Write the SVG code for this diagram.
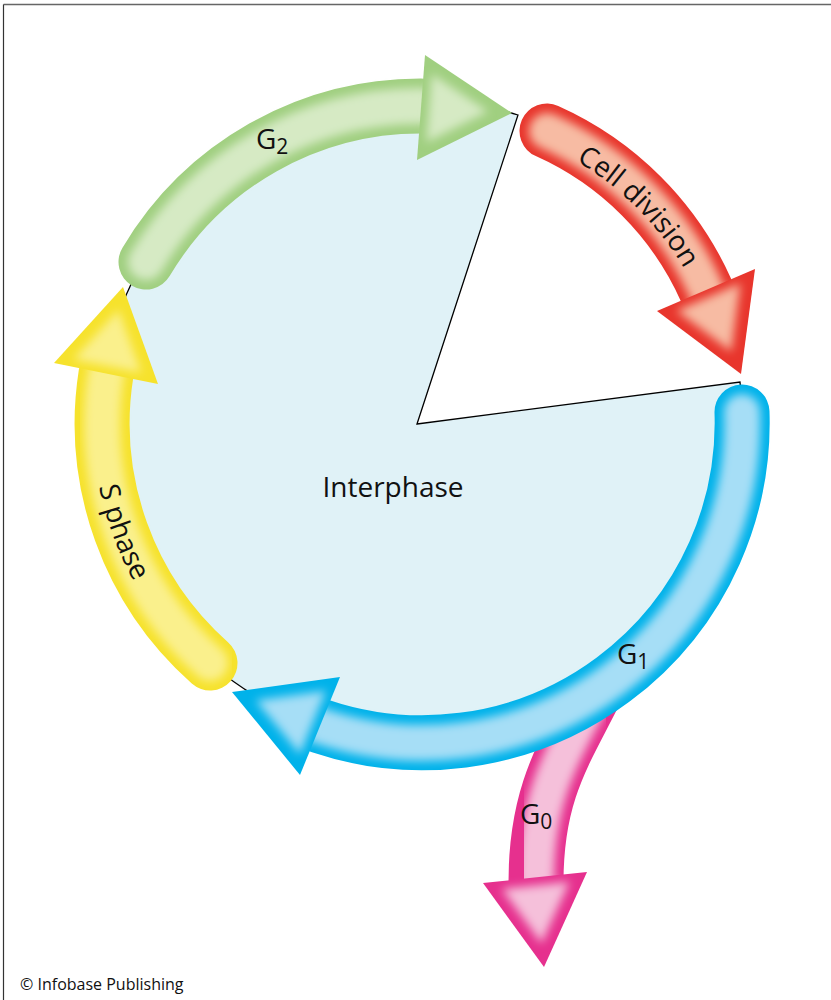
<svg xmlns="http://www.w3.org/2000/svg" width="831" height="1000" viewBox="0 0 831 1000">
  <style>
    .lbl { font-family: "Open Sans", "Noto Sans", "DejaVu Sans", sans-serif; font-size: 28px; fill: #111; }
    .sub { font-size: 21px; }
    .band { fill: none; stroke-width: 55; stroke-linecap: round; }
    .core { fill: none; stroke-width: 36; stroke-linecap: round; filter: url(#soft); }
    .head-core { filter: url(#softHead); }
  </style>
  <defs>
    <filter id="soft" x="-20%" y="-20%" width="140%" height="140%">
      <feGaussianBlur stdDeviation="5"/>
    </filter>
    <filter id="softHead" x="-30%" y="-30%" width="160%" height="160%">
      <feGaussianBlur stdDeviation="7"/>
    </filter>
    <!-- baselines for the curved labels -->
    <path id="cellPath" d="M474.8,123.6 A304,304 0 0,1 721.4,370.2"/>
    <path id="sPath" d="M94.2,394.3 A329,329 0 0,0 189.4,655.6"/>
  </defs>

  <rect x="0" y="0" width="831" height="1000" fill="#ffffff"/>
  <!-- frame -->
  <line x1="3.5" y1="4.5" x2="831" y2="4.5" stroke="#666" stroke-width="1.5"/>
  <line x1="3.5" y1="4.5" x2="3.5" y2="1000" stroke="#333" stroke-width="1.2"/>

  <!-- interphase disc with the division wedge cut out -->
  <g id="interphase">
    <path d="M417,424 L740,382 A321,321 0 1,1 518,115 Z" fill="#e0f2f7" stroke="#000" stroke-width="1.3" stroke-linejoin="miter"/>
    <text class="lbl" x="393" y="497" text-anchor="middle">Interphase</text>
  </g>

  <!-- G0 exit arrow (under G1) -->
  <g id="g0">
    <path class="band" d="M594,694 C565,752 536,792 536,882" stroke="#e6308e" stroke-linecap="butt" stroke-width="53"/>
    <path class="core" d="M594,694 C565,752 536,792 536,882" stroke="#f5c0da" stroke-linecap="butt"/>
    <polygon points="483,883 544,967 587,872" fill="#e6308e"/>
    <polygon class="head-core" points="483,883 544,967 587,872" fill="#f5c0da" transform="translate(537,900) scale(0.65) translate(-537,-900)"/>
    <text class="lbl" x="520" y="824">G<tspan class="sub" dy="5">0</tspan></text>
  </g>

  <!-- G1 -->
  <g id="g1">
    <path class="band" d="M742,412 A320,320 0 0,1 320,726" stroke="#00b2ea"/>
    <path class="core" d="M742,412 A320,320 0 0,1 320,726" stroke="#a6def6"/>
    <polygon points="340,677 232,692 300,775" fill="#00b2ea"/>
    <polygon class="head-core" points="340,677 232,692 300,775" fill="#a6def6" transform="translate(300,716) scale(0.65) translate(-300,-716)"/>
    <text class="lbl" x="617" y="664">G<tspan class="sub" dy="5">1</tspan></text>
  </g>

  <!-- S phase -->
  <g id="s-phase">
    <path class="band" d="M210,663 A320,320 0 0,1 106,374" stroke="#f6e22c"/>
    <path class="core" d="M210,663 A320,320 0 0,1 106,374" stroke="#faf08c"/>
    <polygon points="54,363 123,287 158,384" fill="#f6e22c"/>
    <polygon class="head-core" points="54,363 123,287 158,384" fill="#faf08c" transform="translate(110,352) scale(0.65) translate(-110,-352)"/>
    <text class="lbl"><textPath href="#sPath" startOffset="50%" text-anchor="middle">S phase</textPath></text>
  </g>

  <!-- G2 -->
  <g id="g2">
    <path class="band" d="M146,262 A319,319 0 0,1 421,106" stroke="#a0cf80"/>
    <path class="core" d="M146,262 A319,319 0 0,1 421,106" stroke="#d6eac4"/>
    <polygon points="425,55 512,113 417,160" fill="#a0cf80"/>
    <polygon class="head-core" points="425,55 512,113 417,160" fill="#d6eac4" transform="translate(444,109) scale(0.65) translate(-444,-109)"/>
    <text class="lbl" x="256" y="149">G<tspan class="sub" dy="5">2</tspan></text>
  </g>

  <!-- Cell division -->
  <g id="cell-division">
    <path class="band" d="M547,131 A315,315 0 0,1 706,290" stroke="#e8352c"/>
    <path class="core" d="M547,131 A315,315 0 0,1 706,290" stroke="#f7bba3"/>
    <polygon points="755,269 741,374 657,311" fill="#e8352c"/>
    <polygon class="head-core" points="755,269 741,374 657,311" fill="#f7bba3" transform="translate(713,310) scale(0.65) translate(-713,-310)"/>
    <text class="lbl"><textPath href="#cellPath" startOffset="50%" text-anchor="middle">Cell division</textPath></text>
  </g>

  <text x="20" y="990" font-family="'Open Sans', 'Noto Sans', sans-serif" font-size="16" fill="#111">© Infobase Publishing</text>
</svg>
